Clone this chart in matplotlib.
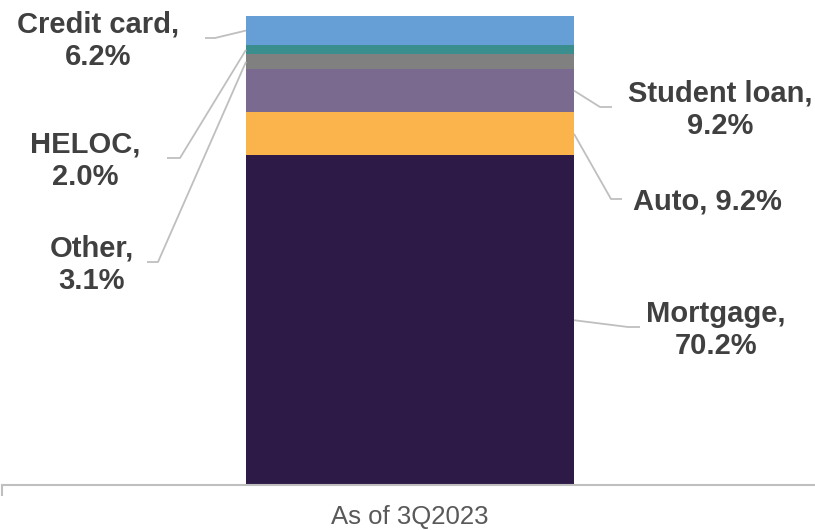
import matplotlib
matplotlib.use("Agg")
import matplotlib.pyplot as plt
import numpy as np

plt.rcParams["font.family"] = ["Liberation Sans", "DejaVu Sans"]

# data (bottom to top of the stack)
categories = ["Mortgage", "Auto", "Student loan", "Other", "HELOC", "Credit card"]
shares = [70.2, 9.2, 9.2, 3.1, 2.0, 6.2]
colors = ["#2E1A47", "#FBB44C", "#7B6A8F", "#808080", "#3A8E8E", "#659FD6"]
xlabel = "As of 3Q2023"

# label layout in image pixels: side, elbow (x,y), line end x, text x, text align, text
label_layout = {
    "Credit card":  ("left", 215, 38, 205, 98, "center", "Credit card,\n6.2%"),
    "HELOC":        ("left", 180, 158, 167, 85, "center", "HELOC,\n2.0%"),
    "Other":        ("left", 158, 262, 147, 92, "center", "Other,\n3.1%"),
    "Student loan": ("right", 600, 107, 612, 720, "center", "Student loan,\n9.2%"),
    "Auto":         ("right", 611, 199, 622, 633, "left", "Auto, 9.2%"),
    "Mortgage":     ("right", 628, 327, 640, 716, "center", "Mortgage,\n70.2%"),
}

W, H = 815, 530
fig = plt.figure(figsize=(W / 100, H / 100), dpi=100)
ax = fig.add_axes([2 / W, 45 / H, 813 / W, 469 / H])

total = sum(shares)
bottoms = np.concatenate([[0], np.cumsum(shares)[:-1]])
for s, b, c in zip(shares, bottoms, colors):
    ax.bar([0], s, bottom=b, width=1.0, color=c, linewidth=0)

ax.set_xlim((2 - 410) / 328, (815 - 410) / 328)
ax.set_ylim(0, total)


def px(x, y):
    # image pixel (top-left origin) -> data coords
    return ((x - 410) / 328, (485 - y) / 469 * total)


line_c = "#BFBFBF"
for cat, s, b in zip(categories, shares, bottoms):
    side, ex, ey, endx, tx, ha, txt = label_layout[cat]
    ax_x = -0.5 if side == "left" else 0.5
    ay = b + s / 2
    e = px(ex, ey)
    en = px(endx, ey)
    ax.plot([ax_x, e[0], en[0]], [ay, e[1], en[1]], color=line_c, lw=1.3,
            solid_capstyle="butt", clip_on=False)
    t = px(tx, ey + 3)
    ax.text(t[0], t[1], txt, ha=ha, va="center", multialignment="center",
            fontsize=21, fontweight="bold", color="#404040", linespacing=1.22)

for sp in ["top", "right", "left"]:
    ax.spines[sp].set_visible(False)
ax.spines["bottom"].set_color("#BFBFBF")
ax.spines["bottom"].set_linewidth(1.5)
ax.set_yticks([])
ax.set_xticks([ax.get_xlim()[0]])
ax.set_xticklabels([""])
ax.tick_params(axis="x", length=8, width=1.5, color="#BFBFBF")

fig.text(410 / W, 1 - 517 / H, xlabel, ha="center", va="center",
         fontsize=18.5, color="#595959")

fig.savefig("out.png", dpi=100)
